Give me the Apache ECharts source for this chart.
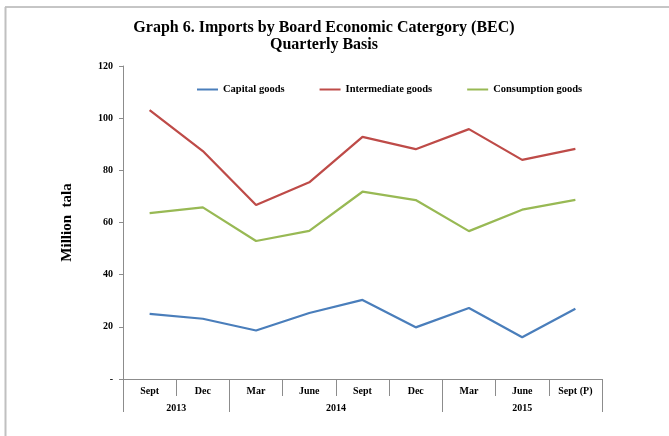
<!DOCTYPE html>
<html><head><meta charset="utf-8">
<script src="https://cdn.jsdelivr.net/npm/echarts@6/dist/echarts.min.js"></script>
<style>html,body{margin:0;padding:0;background:#fff}#c{width:669px;height:436px}</style>
</head><body><div id="c"></div>
<script>
const categories = ['Sept','Dec','Mar','June','Sept','Dec','Mar','June','Sept (P)'];
const years = ['2013','2014','2015'];
const yearCenters = [1, 4, 7.5];
const yearBounds = [0, 2, 6, 9];
const capital = [25.0, 23.1, 18.6, 25.3, 30.3, 19.8, 27.2, 16.0, 26.9];
const intermediate = [103.1, 87.4, 66.7, 75.4, 92.8, 88.1, 95.8, 84.0, 88.2];
const consumption = [63.6, 65.8, 52.9, 56.8, 71.8, 68.6, 56.7, 64.9, 68.7];
const yTicks = [0, 20, 40, 60, 80, 100, 120];

const font = '"Liberation Serif", serif';
const chart = echarts.init(document.getElementById('c'));
const lineSeries = (name, data, color) => ({
  name, type: 'line', data, symbol: 'none', xAxisIndex: 0,
  lineStyle: { color, width: 2.25 }, itemStyle: { color }
});
chart.setOption({
  animation: false,
  title: {
    text: 'Graph 6. Imports by Board Economic Catergory (BEC)\nQuarterly Basis',
    left: 319, top: 14, textAlign: 'center',
    textStyle: { fontFamily: font, fontWeight: 'bold', fontSize: 16, color: '#000', lineHeight: 17 }
  },
  legend: {
    left: 192, top: 79, itemWidth: 21, itemHeight: 2, itemGap: 35, icon: 'rect',
    textStyle: { fontFamily: font, fontWeight: 'bold', fontSize: 10.5, color: '#000' }
  },
  graphic: [
    { type: 'line', shape: { x1: 5, y1: 7, x2: 669, y2: 7 }, style: { stroke: '#8c8c8c', lineWidth: 1 } },
    { type: 'line', shape: { x1: 5.5, y1: 7, x2: 5.5, y2: 436 }, style: { stroke: '#c0c0c0', lineWidth: 2 } }
  ],
  grid: { left: 123, right: 67, top: 66, bottom: 57 },
  xAxis: [
    {
      type: 'category', data: categories, boundaryGap: true, position: 'bottom',
      axisLine: { lineStyle: { color: '#8c8c8c', width: 1 } },
      axisTick: { show: true, interval: 0, length: 17, lineStyle: { color: '#8c8c8c' } },
      axisLabel: { interval: 0, margin: 7, fontFamily: font, fontWeight: 'bold', fontSize: 10, color: '#000' }
    },
    {
      type: 'value', min: 0, max: 9, position: 'bottom',
      axisLine: { show: false },
      splitLine: { show: false },
      axisTick: { show: true, customValues: yearBounds, length: 33, lineStyle: { color: '#8c8c8c' } },
      axisLabel: {
        customValues: yearCenters, margin: 24,
        formatter: v => years[yearCenters.indexOf(v)] || '',
        fontFamily: font, fontWeight: 'bold', fontSize: 10, color: '#000'
      }
    }
  ],
  yAxis: {
    type: 'value', min: 0, max: 120, interval: 20,
    name: 'Million  tala', nameLocation: 'middle', nameRotate: 90, nameGap: 48,
    nameTextStyle: { fontFamily: font, fontWeight: 'bold', fontSize: 15, color: '#000' },
    axisLine: { show: true, lineStyle: { color: '#8c8c8c' } },
    axisTick: { show: true, length: 4, lineStyle: { color: '#8c8c8c' } },
    splitLine: { show: false },
    axisLabel: {
      margin: 10, fontFamily: font, fontWeight: 'bold', fontSize: 10, color: '#000',
      formatter: v => yTicks.includes(v) ? (v === 0 ? '-' : String(v)) : ''
    }
  },
  series: [
    lineSeries('Capital goods', capital, '#4a7ebb'),
    lineSeries('Intermediate goods', intermediate, '#be4b48'),
    lineSeries('Consumption goods', consumption, '#98b954')
  ]
});
</script></body></html>
